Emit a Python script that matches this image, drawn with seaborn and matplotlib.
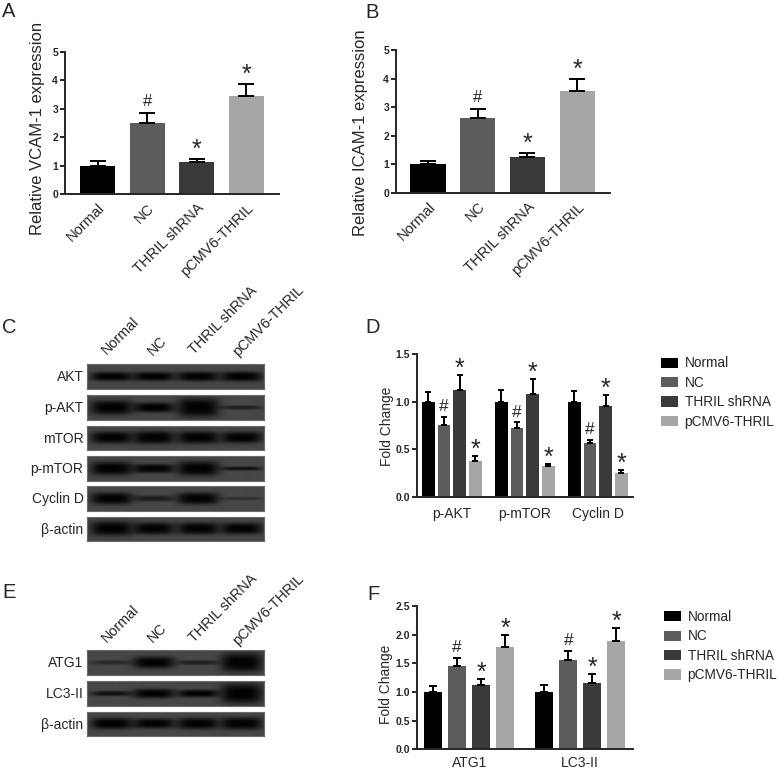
import numpy as np
import pandas as pd
import seaborn as sns
import matplotlib
import matplotlib.pyplot as plt

matplotlib.use("Agg")

WIDTH, HEIGHT = 778, 769

groups = ["Normal", "NC", "THRIL shRNA", "pCMV6-THRIL"]
colors = ["#000000", "#5c5c5c", "#3a3a3a", "#a6a6a6"]
marks = ["", "#", "*", "*"]

# panel A / B
vcam = [1.0, 2.5, 1.12, 3.45]
vcam_err = [0.15, 0.35, 0.11, 0.42]
icam = [1.0, 2.6, 1.25, 3.58]
icam_err = [0.10, 0.32, 0.13, 0.42]

# panel D
d_targets = ["p-AKT", "p-mTOR", "Cyclin D"]
d_pakt = [1.0, 0.75, 1.12, 0.38]
d_pakt_err = [0.10, 0.09, 0.16, 0.05]
d_pmtor = [1.0, 0.72, 1.08, 0.32]
d_pmtor_err = [0.12, 0.06, 0.16, 0.025]
d_cyclin = [1.0, 0.56, 0.95, 0.25]
d_cyclin_err = [0.11, 0.04, 0.12, 0.03]

# panel F
f_targets = ["ATG1", "LC3-II"]
f_atg1 = [1.0, 1.45, 1.12, 1.78]
f_atg1_err = [0.10, 0.15, 0.11, 0.21]
f_lc3 = [1.0, 1.56, 1.16, 1.89]
f_lc3_err = [0.12, 0.16, 0.16, 0.23]

# blots: band thickness per lane (fraction of the strip height) and darkness
blot_lanes = [0.138, 0.377, 0.628, 0.874]
blot_c_names = ["AKT", "p-AKT", "mTOR", "p-mTOR", "Cyclin D", "β-actin"]
blot_c_size = [
    [0.18, 0.18, 0.19, 0.20],
    [0.29, 0.20, 0.38, 0.08],
    [0.24, 0.26, 0.25, 0.23],
    [0.27, 0.18, 0.29, 0.08],
    [0.24, 0.12, 0.24, 0.07],
    [0.29, 0.24, 0.24, 0.23],
]
blot_c_dark = [
    [1.0, 1.0, 1.0, 1.0],
    [1.0, 1.0, 1.0, 0.6],
    [1.0, 1.0, 1.0, 1.0],
    [1.0, 1.0, 1.0, 0.8],
    [1.0, 0.6, 1.0, 0.35],
    [1.0, 1.0, 1.0, 1.0],
]
blot_e_names = ["ATG1", "LC3-II", "β-actin"]
blot_e_size = [
    [0.09, 0.24, 0.09, 0.38],
    [0.10, 0.19, 0.15, 0.40],
    [0.23, 0.20, 0.23, 0.25],
]
blot_e_dark = [
    [0.45, 1.0, 0.6, 1.0],
    [0.8, 1.0, 1.0, 1.0],
    [1.0, 1.0, 1.0, 1.0],
]

sns.set_theme(style="ticks")
plt.rcParams["font.family"] = ["Liberation Sans", "DejaVu Sans"]
plt.rcParams["axes.linewidth"] = 1.4

fig = plt.figure(figsize=(WIDTH / 100, HEIGHT / 100), dpi=100)


def px_axes(left, top, right, bottom):
    return fig.add_axes(
        [left / WIDTH, 1 - bottom / HEIGHT, (right - left) / WIDTH, (bottom - top) / HEIGHT]
    )


def px_text(x, y, s, **kw):
    fig.text(x / WIDTH, 1 - y / HEIGHT, s, **kw)


def finish_axes(ax, ymax, step, label, label_xy, label_size, xlim):
    ax.set_ylim(0, ymax)
    ax.set_xlim(*xlim)
    ax.set_yticks(np.arange(0, ymax + 0.01, step))
    if step < 1:
        ax.set_yticklabels([f"{v:.1f}" for v in np.arange(0, ymax + 0.01, step)])
    ax.tick_params(axis="y", length=3.5, width=1.4, pad=1.5, labelsize=7.5)
    ax.tick_params(axis="x", length=0)
    for t in ax.get_yticklabels():
        t.set_fontweight("bold")
    ax.set_xlabel("")
    ax.set_ylabel(label, fontsize=label_size, va="center")
    ax.yaxis.set_label_coords(label_xy[0] / WIDTH, 1 - label_xy[1] / HEIGHT, transform=fig.transFigure)
    sns.despine(ax=ax)
    ax.patch.set_alpha(0)


def add_errors(ax, errs, capsize, hash_size, hash_off, star_off):
    # the hue legend leaves empty patches behind, only real bars count
    bars = sorted([b for b in ax.patches if b.get_height() > 0], key=lambda b: b.get_x())
    for i, (bar, err) in enumerate(zip(bars, errs)):
        x = bar.get_x() + bar.get_width() / 2
        y = bar.get_height()
        ax.errorbar(x, y, yerr=[[0], [err]], fmt="none", ecolor="black",
                    elinewidth=1.4, capsize=capsize, capthick=1.4)
        m = marks[i % 4]
        if m == "#":
            ax.annotate(m, (x, y + err), xytext=(0, hash_off), textcoords="offset points",
                        ha="center", va="baseline", fontsize=hash_size)
        elif m == "*":
            ax.annotate(m, (x, y + err), xytext=(0, star_off), textcoords="offset points",
                        ha="center", va="baseline", fontsize=18)


def single_panel(box, vals, errs, label, label_xy, xlim):
    ax = px_axes(*box)
    frame = pd.DataFrame({"group": groups, "value": vals})
    sns.barplot(data=frame, x="group", y="value", hue="group", palette=colors,
                width=0.71, saturation=1, legend=False, linewidth=0, ax=ax)
    add_errors(ax, errs, 6, 12, 5, 1.5)
    finish_axes(ax, 5, 1, label, label_xy, 12, xlim)
    ax.set_xticks(range(4))
    ax.set_xticklabels(groups, rotation=45, ha="right", rotation_mode="anchor", fontsize=10.5)
    ax.tick_params(axis="x", pad=5)


def grouped_panel(box, targets, series, errs, ymax, step, width, gap, capsize, label_xy,
                  xlim, legend_xy, tick_pad):
    ax = px_axes(*box)
    rows = []
    for target, vals in zip(targets, series):
        for group, v in zip(groups, vals):
            rows.append({"target": target, "group": group, "value": v})
    frame = pd.DataFrame(rows)
    sns.barplot(data=frame, x="target", y="value", hue="group", hue_order=groups,
                palette=colors, width=width, gap=gap, saturation=1, linewidth=0, ax=ax)
    handles, labels = ax.get_legend_handles_labels()
    ax.get_legend().remove()
    flat_errs = [e for err in errs for e in err]
    add_errors(ax, flat_errs, capsize, 12.5, 4, -0.6)
    finish_axes(ax, ymax, step, "Fold Change", label_xy, 9.9, xlim)
    ax.tick_params(axis="x", labelsize=10, pad=tick_pad)
    fig.legend(handles, labels, loc="upper left", bbox_to_anchor=legend_xy, frameon=False,
               fontsize=9.8, handlelength=1.28, handleheight=0.8, labelspacing=0.4,
               handletextpad=0.45, borderaxespad=0, borderpad=0)


def draw_blot(top, bottom, sizes, darks, name, left=87, right=264):
    ax = px_axes(left, top, right, bottom)
    h, w = 50, 360
    yy, xx = np.mgrid[0:1:h * 1j, 0:1:w * 1j]
    img = np.full((h, w), 0.28)
    gain = np.ones((h, w))
    for lane, size, dark in zip(blot_lanes, sizes, darks):
        along = np.exp(-(np.abs(xx - lane) / 0.118) ** 4)
        across = np.exp(-(np.abs(yy - 0.5) / size) ** 3)
        gain *= 1 - 0.97 * dark * along * across
    ax.imshow(img * gain, cmap="gray", vmin=0, vmax=1, aspect="auto", interpolation="bilinear")
    ax.set_xticks([])
    ax.set_yticks([])
    for s in ax.spines.values():
        s.set_color("#6a6a6a")
        s.set_linewidth(0.8)
    px_text(83.5, (top + bottom) / 2 + 0.5, name, ha="right", va="center", fontsize=10)


single_panel((65, 51.7, 279, 194), vcam, vcam_err, "Relative VCAM-1 expression",
             (37.7, 128), (-0.657, 3.66))
single_panel((396, 50, 610, 192.7), icam, icam_err, "Relative ICAM-1 expression",
             (360.7, 132.5), (-0.644, 3.66))

grouped_panel((417, 354, 633, 496.7), d_targets, [d_pakt, d_pmtor, d_cyclin],
              [d_pakt_err, d_pmtor_err, d_cyclin_err], 1.5, 0.5, 0.86, 0.19, 1.9,
              (386.7, 426), (-0.477, 2.48), (661 / WIDTH, 1 - 356.5 / HEIGHT), 7.5)
grouped_panel((417, 606, 632.7, 749.3), f_targets, [f_atg1, f_lc3],
              [f_atg1_err, f_lc3_err], 2.5, 0.5, 0.861, 0.247, 2.9,
              (386, 684), (-0.47, 1.473), (664 / WIDTH, 1 - 610 / HEIGHT), 4.5)

c_tops = [364.3, 395, 425.7, 456, 486.3, 516.7]
for top, size, dark, name in zip(c_tops, blot_c_size, blot_c_dark, blot_c_names):
    draw_blot(top, top + 24.7, size, dark, name)

e_tops = [650, 681, 711.7]
for top, size, dark, name in zip(e_tops, blot_e_size, blot_e_dark, blot_e_names):
    draw_blot(top, top + 24.7, size, dark, name)

for x, y, s in zip([107, 153, 194, 238], [355, 356, 355, 357], groups):
    px_text(x, y, s, rotation=45, ha="left", va="baseline", rotation_mode="anchor", fontsize=10.4)
for x, y, s in zip([107, 153, 194, 238], [643, 643, 643, 646], groups):
    px_text(x, y, s, rotation=45, ha="left", va="baseline", rotation_mode="anchor", fontsize=10.4)

letters = ["A", "B", "C", "D", "E", "F"]
letter_x = [2, 365, 2, 365, 2, 367]
letter_y = [16.7, 18, 332.7, 333, 598, 600]
for x, y, s in zip(letter_x, letter_y, letters):
    px_text(x, y, s, ha="left", va="baseline", fontsize=14.5)

fig.savefig("out.png", dpi=100)
